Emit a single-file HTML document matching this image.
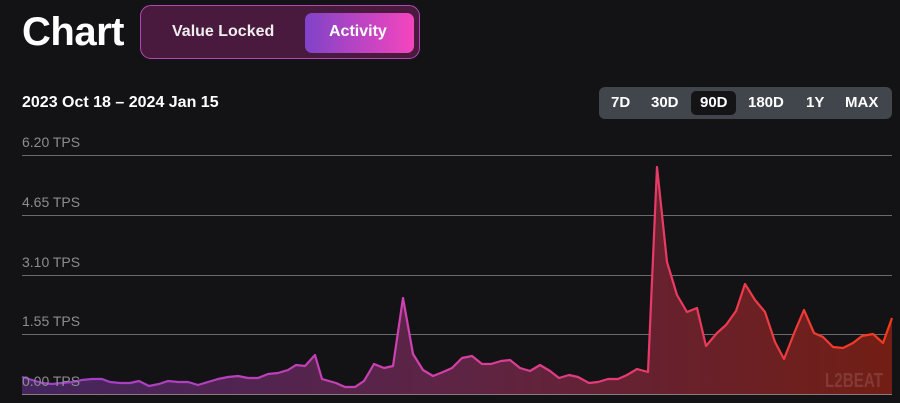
<!DOCTYPE html>
<html><head><meta charset="utf-8"><style>
body{margin:0;background:#131315;width:900px;height:403px;overflow:hidden;font-family:"Liberation Sans",Arial,sans-serif;position:relative}
.t{position:absolute;color:#fff;font-weight:bold}
.lbl{position:absolute;left:22px;font-size:14px;color:#8d8d90;z-index:2}
</style></head><body>
<div class="t" style="left:22px;top:10px;font-size:40px;letter-spacing:-0.5px">Chart</div>
<div style="position:absolute;left:140px;top:5px;width:280px;height:54px;box-sizing:border-box;border:1px solid #b04ab0;border-radius:11px;background:#4a1a3e"></div>
<div class="t" style="left:172px;top:23px;font-size:16px;color:#eee">Value Locked</div>
<div style="position:absolute;left:305px;top:13px;width:109px;height:40px;border-radius:7px;background:linear-gradient(90deg,#8043c8,#f545be)"></div>
<div class="t" style="left:329px;top:23px;font-size:16px">Activity</div>
<div class="t" style="left:22px;top:94px;font-size:16px">2023 Oct 18 – 2024 Jan 15</div>
<div style="position:absolute;left:599px;top:87px;width:293px;height:32px;border-radius:6px;background:#41454c"></div>
<div style="position:absolute;left:691px;top:91px;width:45px;height:24px;border-radius:5px;background:#141416"></div>
<div class="t" style="top:94px;font-size:15px;left:611px">7D</div>
<div class="t" style="top:94px;font-size:15px;left:651px">30D</div>
<div class="t" style="top:94px;font-size:15px;left:700px">90D</div>
<div class="t" style="top:94px;font-size:15px;left:748px">180D</div>
<div class="t" style="top:94px;font-size:15px;left:806px">1Y</div>
<div class="t" style="top:94px;font-size:15px;left:845px">MAX</div>
<div class="lbl" style="top:134px">6.20 TPS</div>
<div class="lbl" style="top:194px">4.65 TPS</div>
<div class="lbl" style="top:254px">3.10 TPS</div>
<div class="lbl" style="top:313px">1.55 TPS</div>
<div class="lbl" style="top:373px">0.00 TPS</div>
<svg width="900" height="403" style="position:absolute;left:0;top:0;z-index:1">
<defs>
<linearGradient id="f" x1="22" x2="892" y1="0" y2="0" gradientUnits="userSpaceOnUse"><stop offset="0" stop-color="#44255e"/><stop offset="0.5" stop-color="#5e2444"/><stop offset="1" stop-color="#721e14"/></linearGradient>
<linearGradient id="l" x1="22" x2="892" y1="0" y2="0" gradientUnits="userSpaceOnUse"><stop offset="0" stop-color="#9a40c8"/><stop offset="0.45" stop-color="#d040b0"/><stop offset="0.72" stop-color="#e83a6a"/><stop offset="1" stop-color="#f43a1a"/></linearGradient>
</defs>
<g stroke="#6a6a6e" stroke-width="1"><line x1="22" x2="892" y1="155.5" y2="155.5"/><line x1="22" x2="892" y1="215.5" y2="215.5"/><line x1="22" x2="892" y1="275.5" y2="275.5"/><line x1="22" x2="892" y1="334.5" y2="334.5"/></g>
<path id="p" d="M22,377 L32,380 42,383 52,384 62,383 72,382 82,380 92,379 102,379 110,382 120,383 130,383 139,381 149,386 159,384 168,381 178,382 188,382 198,385 208,382 218,379 228,377 238,376 248,378 258,378 268,374 278,373 288,370 296,365 305,366 315,355 322,379 336,383 345,387 355,387 364,381 374,364 384,368 393,366 403,298 413,354 423,370 433,376 443,372 452,368 462,358 472,356 482,364 491,364 501,361 510,360 520,368 530,371 540,365 550,371 559,378 569,375 578,377 589,383 598,382 608,379 618,379 627,375 637,369 648,372 657,167 667,262 677,295 687,312 697,308 706,346 717,333 726,325 736,311 745,284 755,300 765,312 775,342 784,359 795,331 804,310 814,333 823,337 833,347 843,348 853,343 862,336 873,334 883,343 892,318" fill="none"/>
<path d="M22,377 L32,380 42,383 52,384 62,383 72,382 82,380 92,379 102,379 110,382 120,383 130,383 139,381 149,386 159,384 168,381 178,382 188,382 198,385 208,382 218,379 228,377 238,376 248,378 258,378 268,374 278,373 288,370 296,365 305,366 315,355 322,379 336,383 345,387 355,387 364,381 374,364 384,368 393,366 403,298 413,354 423,370 433,376 443,372 452,368 462,358 472,356 482,364 491,364 501,361 510,360 520,368 530,371 540,365 550,371 559,378 569,375 578,377 589,383 598,382 608,379 618,379 627,375 637,369 648,372 657,167 667,262 677,295 687,312 697,308 706,346 717,333 726,325 736,311 745,284 755,300 765,312 775,342 784,359 795,331 804,310 814,333 823,337 833,347 843,348 853,343 862,336 873,334 883,343 892,318 L892,394 L22,394Z" fill="url(#f)"/>
<use href="#p" stroke="url(#l)" stroke-width="2.2" stroke-linejoin="round"/>
<line x1="22" x2="892" y1="394.5" y2="394.5" stroke="#8a7a80" stroke-width="1"/>
<text x="825" y="387" font-family="Liberation Sans,sans-serif" font-size="20" font-weight="bold" fill="#9a5a5a" opacity="0.45" textLength="58" lengthAdjust="spacingAndGlyphs">L2BEAT</text>
</svg>
</body></html>
